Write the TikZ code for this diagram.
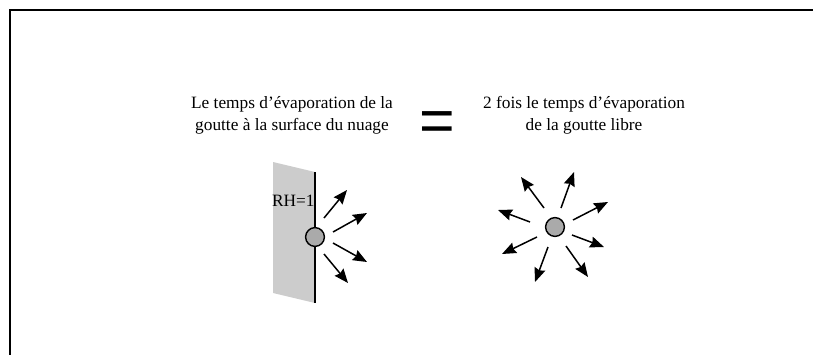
\documentclass[tikz,border=0pt]{standalone}
\usepackage{fontspec}
\setmainfont{Liberation Serif}
\newfontfamily\eqfont{Liberation Sans}
\usetikzlibrary{arrows.meta,calc}
\definecolor{wallgray}{RGB}{204,204,204}
\definecolor{dropgray}{RGB}{170,170,170}
\tikzset{
  caption/.style={font=\fontsize{8.65}{11.2}\selectfont,align=center,inner sep=0pt},
  drop/.style={circle,draw=black,line width=0.7pt,fill=dropgray,minimum size=9.4pt,inner sep=0pt},
  jet/.style={-{Stealth[length=7pt,width=5.6pt,inset=0.8pt]},line width=0.75pt},
  frame/.style={line width=1pt,line cap=rect},
}

\begin{document}
\begin{tikzpicture}[x=0.5pt,y=-0.5pt]
  \useasboundingbox (0,0) rectangle (813,354);
  % frame: only the top and left edges are visible
  \coordinate (fTR) at (813,10);
  \coordinate (fTL) at (10,10);
  \coordinate (fBL) at (10,354);
  \draw[frame] (fTR) -- (fTL) -- (fBL);
  % the equation
  \node[caption] (lhs) at (292,115.5) {Le temps d'évaporation de la\\goutte à la surface du nuage};
  \node[font=\eqfont\fontsize{30.5}{30.5}\selectfont,inner sep=0pt,anchor=base] (eq) at (437,141) {=};
  \node[caption] (rhs) at (584,115.5) {2 fois le temps d'évaporation\\de la goutte libre};
  % cloud surface with the drop on it
  \coordinate (wallT) at (315,172);
  \coordinate (wallB) at (315,303);
  \fill[wallgray] (273,162) -- (wallT) -- (wallB) -- (273,293) -- cycle;
  \draw[line width=0.65pt] (wallT) -- (wallB);
  \node[caption,anchor=base east] (rh) at (315,206) {RH=1};
  \node[drop] (dropL) at (315,237) {};
  \foreach \tx/\ty/\hx/\hy in {9/-19/32/-47, 18/-5/52/-24, 18/6/52/25, 9/17/33/46}
    \draw[jet] ($(dropL)+(\tx,\ty)$) -- ($(dropL)+(\hx,\hy)$);
  % free drop
  \node[drop] (dropR) at (555,227) {};
  \foreach \tx/\ty/\hx/\hy in {-11/-19/-34/-50, 6/-19/19/-55, 18/-7/53/-25, -25/-5/-57/-17,
      17/8/49/20, -18/10/-53/27, -7/20/-20/55, 11/19/33/50}
    \draw[jet] ($(dropR)+(\tx,\ty)$) -- ($(dropR)+(\hx,\hy)$);
\end{tikzpicture}
\end{document}
